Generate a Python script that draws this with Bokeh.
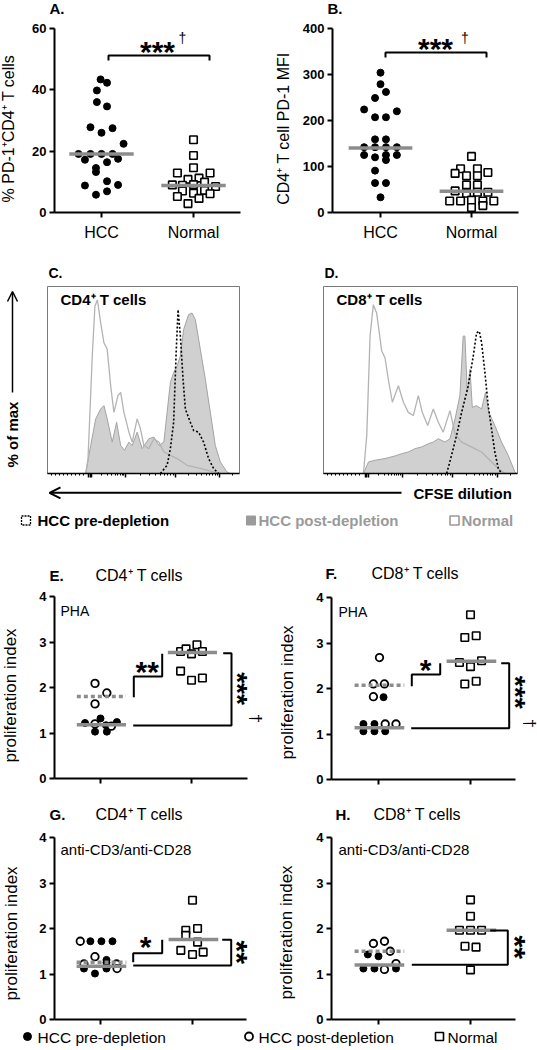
import math
from bokeh.plotting import figure
from bokeh.layouts import column, row
from bokeh.models import Range1d, FixedTicker, Label, Arrow, OpenHead
from bokeh.core.properties import value
from bokeh.embed import file_html
from bokeh.resources import INLINE

FONT = "Liberation Sans"
MED_GRAY = "#8c8c8c"

# ---------------- data: panel A (% PD-1+CD4+ T cells) ----------------
A_HCC_VAL = [43.4, 42.3, 39.8, 36.0, 34.6, 27.8, 27.5, 26.0, 22.4, 19.1, 19.1, 19.1, 19.1,
             17.2, 16.4, 17.5, 14.5, 13.2, 8.8, 10.2, 9.0, 5.8, 6.9]
A_HCC_JIT = [-0.01, 0.06, -0.05, -0.05, 0.06, -0.12, 0.12, 0.0, 0.24, -0.25, -0.12, 0.0, 0.12,
             -0.18, 0.06, 0.18, -0.06, -0.06, -0.18, 0.06, 0.18, -0.06, 0.06]
A_NOR_VAL = [23.7, 18.6, 14.6, 12.9, 12.9, 10.8, 11.2, 9.0, 8.9, 9.1, 9.9, 8.5, 7.0, 6.3, 7.2,
             5.2, 4.6, 6.1, 2.9]
A_NOR_JIT = [0, 0, 0, -0.175, 0.18, -0.06, 0.06, -0.23, -0.12, 0, 0.12, 0.24, -0.12, 0, 0.12,
             -0.175, 0.06, 0.18, -0.06]
A_MED = [19.1, 8.8]

# ---------------- data: panel B (CD4+ T cell PD-1 MFI) ----------------
B_HCC_VAL = [304, 279, 262, 249, 224, 220, 207, 207, 159, 159, 142, 142, 142, 142, 125, 125,
             125, 120, 114, 91, 64, 64, 33]
B_HCC_JIT = [0, 0, 0.06, -0.06, -0.18, 0.18, -0.06, 0.06, -0.06, 0.06, -0.18, -0.06, 0.06, 0.18,
             -0.18, 0.06, 0.18, -0.06, 0.06, -0.06, -0.06, 0.06, 0]
B_NOR_VAL = [122, 95, 95, 85, 87, 80, 80, 60, 60, 47, 42, 44, 44, 25, 25, 27, 25, 25, 11, 15]
B_NOR_JIT = [0, -0.12, 0.065, -0.18, 0.18, -0.055, 0.065, -0.055, 0.065, -0.18, -0.055, 0.065,
             0.18, -0.24, -0.12, 0.0, 0.125, 0.245, 0.0, 0.125]
B_MED = [140, 46]

# ---------------- data: CFSE histograms (% of box width, % of max) ----------------
C_NORM_X = [19.9, 21.1, 23.4, 24.7, 26.0, 27.7, 29.4, 31.1, 32.9, 34.6, 36.7, 38.1, 39.8, 42.4,
            44.1, 46.7, 48.4, 50.2, 52.8, 55.4, 58.0, 60.6, 64.0, 67.5, 72.7, 79.6, 86.5, 90.0]
C_NORM_Y = [0, 8, 64.6, 89.4, 92.9, 80.5, 69.9, 66.4, 46.9, 32.7, 41.6, 43.4, 32.7, 22.1,
            16.8, 29.2, 23.9, 15.0, 13.3, 18.6, 16.8, 11.5, 9.7, 8.0, 4.4, 2.7, 0.9, 0]
C_POST_X = [19.9, 22.5, 25.1, 27.7, 29.4, 31.1, 33.7, 36.0, 38.1, 40.1, 42.4, 44.1, 46.7, 49.3,
            52.8, 55.4, 58.0, 60.6, 62.3, 64.0, 65.7, 67.5, 69.2, 70.9, 73.5, 75.3, 77.0, 79.6,
            82.2, 84.8, 87.4, 90.0, 93.4, 95.2]
C_POST_Y = [0, 15, 29.2, 34.5, 36.3, 29.2, 16.8, 27.4, 15, 12.4, 16.8, 15.0, 22.1, 13.3,
            18.6, 19.5, 15.0, 16.8, 32.7, 48.7, 54.0, 57.5, 62.8, 77.0, 85.0, 85.8, 82.3, 66.4,
            50.4, 32.7, 15.0, 6.2, 0.9, 0]
C_PRE_X = [58.8, 62.3, 64.0, 65.7, 67.0, 68.0, 69.2, 70.6, 71.8, 74.4, 76.1, 78.7, 81.3, 83.9,
           86.5, 89.1]
C_PRE_Y = [0, 4.4, 13.3, 27.4, 64.6, 87.6, 73.5, 50.4, 34.5, 27.4, 23.0, 22.1, 16.8, 8.0, 2.7, 0]

D_NORM_X = [20.6, 22.3, 24.0, 25.7, 27.4, 30.0, 31.7, 33.4, 35.5, 38.6, 41.2, 43.7, 46.3, 48.9,
            50.9, 53.7, 56.6, 59.2, 61.7, 65.2, 67.8, 71.2, 74.6, 78.0, 81.5, 84.9, 90.1, 93.5]
D_NORM_Y = [0, 20.4, 73.5, 90.3, 85.8, 65.5, 61.9, 50.4, 38.1, 46.9, 38.1, 32.7, 31.0, 41.6,
            32.7, 25.7, 34.5, 27.4, 22.1, 33.6, 21.2, 16.8, 15.0, 13.3, 11.5, 8.0, 2.7, 0]
D_POST_X = [20.6, 23.2, 26.6, 31.7, 36.9, 40.3, 43.7, 47.2, 50.6, 54.0, 56.6, 59.2, 62.6, 65.2,
            67.8, 70.3, 72.0, 72.9, 74.1, 75.5, 76.7, 78.9, 81.5, 83.5, 85.2, 88.3, 91.8, 95.2,
            98.6, 99.5]
D_POST_Y = [0, 6.2, 7.1, 8.0, 9.4, 10.6, 11.5, 13.3, 14.2, 15.9, 16.8, 18.6, 16.8, 18.6,
            29.2, 41.6, 73.5, 73.5, 43.4, 55.8, 35.4, 36.3, 34.5, 43.4, 32.7, 25.7, 16.8, 9.7,
            0.9, 0]
D_PRE_X = [63.5, 66.0, 68.6, 71.2, 74.6, 77.2, 78.9, 80.3, 81.5, 83.2, 84.9, 86.6, 88.3, 90.1, 91.8]
D_PRE_Y = [0, 9.7, 20.4, 32.7, 46.9, 62.8, 75.2, 76.1, 69.9, 54.0, 36.3, 23.9, 11.5, 2.7, 0]

# ---------------- data: proliferation index (E-H) ----------------
E_PRE_VAL = [1.32, 1.22, 1.24, 1.17, 1.03, 1.03]
E_PRE_JIT = [0.0, -0.17, 0.18, 0.06, -0.06, 0.07]
E_POST_VAL = [2.09, 1.88, 1.64, 1.20, 1.15]
E_POST_JIT = [-0.06, 0.07, -0.06, -0.06, 0.12]
E_NOR_VAL = [2.79, 2.85, 2.94, 2.79, 2.74, 2.36, 2.16, 2.21]
E_NOR_JIT = [-0.12, -0.06, 0.06, 0.12, 0.0, -0.12, 0.0, 0.12]
E_MED = [1.18, 1.80, 2.77]

F_PRE_VAL = [1.81, 1.22, 1.22, 1.06, 1.06, 1.06]
F_PRE_JIT = [0.055, -0.164, -0.044, -0.164, -0.044, 0.073]
F_POST_VAL = [2.68, 2.10, 2.10, 1.82, 1.22, 1.22]
F_POST_JIT = [0.011, -0.055, 0.065, -0.055, 0.073, 0.19]
F_NOR_VAL = [3.62, 3.12, 3.16, 2.57, 2.48, 2.61, 2.10, 2.16]
F_NOR_JIT = [0.0, -0.062, 0.062, -0.12, 0.0, 0.12, -0.062, 0.062]
F_MED = [1.14, 2.07, 2.60]

G_PRE_VAL = [1.72, 1.72, 1.72, 1.31, 1.12, 1.12, 1.01, 1.25]
G_PRE_JIT = [-0.11, 0.01, 0.13, 0.065, -0.18, 0.065, -0.06, 0.065]
G_POST_VAL = [1.72, 1.38, 1.22, 1.22, 1.12]
G_POST_JIT = [-0.22, -0.06, -0.18, 0.175, 0.18]
G_NOR_VAL = [2.62, 1.96, 2.00, 1.85, 1.70, 1.52, 1.43, 1.48]
G_NOR_JIT = [0.0, -0.073, 0.055, -0.073, 0.055, -0.127, 0.0, 0.116]
G_MED = [1.17, 1.26, 1.76]

H_PRE_VAL = [1.43, 1.39, 1.12, 1.12, 1.12]
H_PRE_JIT = [-0.116, 0.0, -0.164, -0.044, 0.19]
H_POST_VAL = [1.67, 1.72, 1.50, 1.23, 1.10]
H_POST_JIT = [-0.055, 0.065, 0.127, 0.19, 0.065]
H_NOR_VAL = [2.63, 2.27, 1.96, 1.96, 1.96, 1.61, 1.59, 1.09]
H_NOR_JIT = [0.0, 0.0, -0.12, 0.0, 0.12, -0.06, 0.06, 0.0]
H_MED = [1.20, 1.50, 1.96]

GROUPS = ["HCC", "Normal"]
LEGEND_CFSE = ["HCC pre-depletion", "HCC post-depletion", "Normal"]
LEGEND_DOTS = ["HCC pre-depletion", "HCC post-depletion", "Normal"]


# ---------------- helpers ----------------
def full_fig(fx, fy, fw, fh, X, Y, **kw):
    """Figure whose frame fills the whole canvas; X/Y map page pixels to data."""
    p = figure(width=fw, height=fh, x_range=Range1d(X(fx), X(fx + fw)),
               y_range=Range1d(Y(fy + fh), Y(fy)),
               min_border=0, min_border_left=0, min_border_right=0,
               min_border_top=0, min_border_bottom=0,
               toolbar_location=None, output_backend="svg", outline_line_color=None,
               background_fill_color="white", border_fill_color="white", **kw)
    p.grid.visible = False
    return p


def label(p, x, y, text, size, bold=False, color="black", align="left",
          baseline="middle", angle=0.0):
    p.add_layout(Label(x=x, y=y, text=text, text_font=FONT, text_font_size=f"{size}px",
                       text_font_style="bold" if bold else "normal", text_color=color,
                       text_align=align, text_baseline=baseline, angle=angle))


def glyph_text(p, X, Y, cx, cy, text, fs, rise, bold=True, rotated=False):
    # put a text so that its visible glyph centre lands at page pixel (cx, cy)
    if rotated:
        label(p, X(cx - rise * fs), Y(cy), text, fs, bold=bold, align="center",
              baseline="middle", angle=-math.pi / 2)
    else:
        label(p, X(cx), Y(cy + rise * fs), text, fs, bold=bold, align="center",
              baseline="middle")


def dagger(p, X, Y, cx, cy, fs, rotated=False):
    # dagger drawn as a text glyph centred on page pixel (cx, cy)
    p.text(x=[X(cx)], y=[Y(cy)], text=["†"], text_font=value(FONT),
           text_font_size=value(f"{fs}px"), text_align=value("center"),
           text_baseline=value("middle"), text_color="black",
           angle=-math.pi / 2 if rotated else 0.0)


def style_axis(ax):
    ax.axis_line_width = 2
    ax.axis_line_color = "black"
    ax.major_tick_line_width = 2
    ax.major_tick_line_color = "black"
    ax.major_tick_out = 5
    ax.major_tick_in = 0
    ax.minor_tick_line_color = None
    ax.major_label_text_font = FONT
    ax.major_label_text_color = "black"


def dot_panel(g, ymax, yticks, show_names):
    fx, fy, fw, fh = g["fig"]
    u = g["norm"] - g["hcc"]

    def X(px):
        return 1 + (px - g["hcc"]) / u

    def Y(py):
        return (g["bottom"] - py) / (g["bottom"] - g["top"]) * ymax

    p = full_fig(fx, fy, fw, fh, X, Y)
    xa, ya = p.xaxis[0], p.yaxis[0]
    xa.fixed_location = 0
    ya.fixed_location = X(g["axis_l"])
    xa.bounds = (X(g["axis_l"]), X(g["axis_r"]))
    ya.bounds = (0, ymax)
    xa.ticker = FixedTicker(ticks=[1, 2])
    ya.ticker = FixedTicker(ticks=yticks)
    style_axis(xa)
    style_axis(ya)
    ya.major_label_text_font_style = "bold"
    ya.major_label_text_font_size = "13px"
    ya.major_label_standoff = 3
    if show_names:
        xa.major_label_overrides = {1: GROUPS[0], 2: GROUPS[1]}
        xa.major_label_text_font_size = "16px"
        xa.major_label_standoff = 6
    else:
        xa.major_label_overrides = {1: "", 2: ""}
        xa.major_label_text_font_size = "13px"
    return p, X, Y


def filled(p, jit, val, base, size=7):
    p.scatter([base + j for j in jit], val, marker="circle", size=size,
              fill_color="black", line_color="black")


def hollow(p, jit, val, base, size=7.5):
    p.scatter([base + j for j in jit], val, marker="circle", size=size,
              fill_color="white", line_color="black", line_width=1.8)


def squares(p, jit, val, base, size=7.5):
    p.scatter([base + j for j in jit], val, marker="square", size=size,
              fill_color="white", line_color="black", line_width=1.6)


def median(p, base, m, lo, hi, dashed=False):
    p.segment(x0=[base + lo], x1=[base + hi], y0=[m], y1=[m], line_color=MED_GRAY,
              line_width=3.5, line_dash="4 3" if dashed else "solid")


def poly(p, X, Y, pts):
    p.line([X(a) for a, _ in pts], [Y(b) for _, b in pts], line_color="black", line_width=2)


STAR_RISE = 0.2

# ---------------- panel geometry (page pixels) ----------------
GA = dict(fig=(0, 0, 268, 262), axis_l=54, axis_r=240, hcc=101, norm=193, top=28, bottom=212)
GB = dict(fig=(268, 0, 269, 262), axis_l=332, axis_r=518, hcc=380, norm=471, top=28, bottom=212)
GE = dict(fig=(0, 540, 268, 255), axis_l=54, axis_r=247, hcc=100, norm=191, top=596, bottom=778)
GF = dict(fig=(268, 540, 269, 255), axis_l=331, axis_r=515, hcc=378, norm=470, top=597, bottom=779)
GG = dict(fig=(0, 795, 268, 231), axis_l=54, axis_r=246, hcc=100, norm=192, top=837, bottom=1019)
GH = dict(fig=(268, 795, 269, 231), axis_l=331, axis_r=515, hcc=378, norm=470, top=837, bottom=1019)

# ---------------- A ----------------
pA, XA, YA = dot_panel(GA, 60, [0, 20, 40, 60], True)
filled(pA, A_HCC_JIT, A_HCC_VAL, 1)
squares(pA, A_NOR_JIT, A_NOR_VAL, 2)
median(pA, 1, A_MED[0], -0.35, 0.35)
median(pA, 2, A_MED[1], -0.35, 0.35)
poly(pA, XA, YA, [(108, 60), (108, 55), (209, 55), (209, 60)])
glyph_text(pA, XA, YA, 157, 45, "***", 30, STAR_RISE)
dagger(pA, XA, YA, 182, 37, 14)
label(pA, XA(49), YA(8), "A.", 15, bold=True)
label(pA, XA(8), YA(128), "% PD-1⁺CD4⁺ T cells", 16, align="center", angle=math.pi / 2)

# ---------------- B ----------------
pB, XB, YB = dot_panel(GB, 400, [0, 100, 200, 300, 400], True)
filled(pB, B_HCC_JIT, B_HCC_VAL, 1)
squares(pB, B_NOR_JIT, B_NOR_VAL, 2)
median(pB, 1, B_MED[0], -0.35, 0.35)
median(pB, 2, B_MED[1], -0.35, 0.35)
poly(pB, XB, YB, [(385, 57), (385, 52), (486, 52), (486, 57)])
glyph_text(pB, XB, YB, 435, 42, "***", 30, STAR_RISE)
dagger(pB, XB, YB, 464.5, 37, 14)
label(pB, XB(327), YB(8), "B.", 15, bold=True)
label(pB, XB(283), YB(128), "CD4⁺ T cell PD-1 MFI", 16, align="center", angle=math.pi / 2)


# ---------------- C / D histograms ----------------
def hist_panel(fig, box, title, letter, post, norm, pre):
    fx, fy, fw, fh = fig
    l, t, r, b = box

    def X(px):
        return (px - l) / (r - l) * 100

    def Y(py):
        return (b - py) / (b - t) * 100

    p = full_fig(fx, fy, fw, fh, X, Y, y_axis_location=None)
    ax = p.xaxis[0]
    ax.fixed_location = 0
    ax.bounds = (0, 100)
    majors = [21.5, 22.3, 23.1, 40.5, 66.7, 89.5]
    minors = [2.0 + 2.1 * k for k in range(9)]
    for lo, hi in [(23.1, 40.5), (40.5, 66.7), (66.7, 89.5), (89.5, 112.3)]:
        minors += [lo + (hi - lo) * math.log10(k) for k in range(2, 10)]
    minors = [m for m in minors if m < 99.5]
    ax.ticker = FixedTicker(ticks=majors, minor_ticks=minors)
    ax.major_label_overrides = {m: "" for m in majors}
    ax.major_label_text_font_size = "10px"
    ax.axis_line_color = "black"
    ax.axis_line_width = 1.5
    ax.major_tick_out = 4
    ax.major_tick_in = 0
    ax.major_tick_line_width = 1.5
    ax.minor_tick_out = 2
    ax.minor_tick_in = 0
    ax.minor_tick_line_color = "black"
    px_, py_ = post
    p.varea(x=px_, y1=[0] * len(px_), y2=py_, fill_color="#d0d0d0")
    p.line(px_, py_, line_color="#a3a3a3", line_width=1)
    p.line(norm[0], norm[1], line_color="#b3b3b3", line_width=1.3)
    p.line(pre[0], pre[1], line_color="black", line_width=1.6, line_dash="2 2")
    p.quad(left=[0], right=[100], bottom=[0], top=[100], fill_color=None,
           line_color="#7a7a7a", line_width=1)
    label(p, X(l + 13), Y(t + 12.5), title, 15, bold=True)
    label(p, X(l + 1), Y(272), letter, 14, bold=True)
    return p, X, Y


pC, XC, YC = hist_panel((0, 262, 268, 220), (47, 286, 239, 473), "CD4⁺ T cells", "C.",
                        (C_POST_X, C_POST_Y), (C_NORM_X, C_NORM_Y), (C_PRE_X, C_PRE_Y))
pD, XD, YD = hist_panel((268, 262, 269, 220), (323, 286, 517, 473), "CD8⁺ T cells", "D.",
                        (D_POST_X, D_POST_Y), (D_NORM_X, D_NORM_Y), (D_PRE_X, D_PRE_Y))
label(pC, XC(12), YC(434), "% of max", 15, bold=True, align="center", angle=math.pi / 2)
pC.add_layout(Arrow(end=OpenHead(size=10, line_width=1.5), x_start=XC(12), y_start=YC(392),
                    x_end=XC(12), y_end=YC(291), line_width=1.5, line_color="black"))


def strip(fy, h):
    p = full_fig(0, fy, 537, h, lambda px: px, lambda py: py - fy,
                 x_axis_location=None, y_axis_location=None)
    p.y_range = Range1d(h, 0)
    return p


# strip under C/D: CFSE arrow + legend (page pixels, y measured downward)
s1 = strip(482, 58)
s1.add_layout(Arrow(end=OpenHead(size=11, line_width=2), x_start=401, y_start=10.3,
                    x_end=49, y_end=10.3, line_width=2, line_color="black"))
s1.text(x=[413], y=[10.5], text=["CFSE dilution"], text_font=value(FONT),
        text_font_size=value("15px"), text_font_style=value("bold"),
        text_baseline=value("middle"), text_color="black")
s1.scatter([25.5], [38], marker="square", size=9, fill_color="white", line_color="black",
           line_width=1.3, line_dash="2 1")
s1.scatter([250.5], [38], marker="square", size=9, fill_color="#9a9a9a", line_color="#9a9a9a")
s1.scatter([454], [38], marker="square", size=9, fill_color="white", line_color="#9a9a9a",
           line_width=1.6)
s1.text(x=[37, 258, 461], y=[38, 38, 38], text=LEGEND_CFSE, text_font=value(FONT),
        text_font_size=value("15px"), text_font_style=value("bold"),
        text_baseline=value("middle"), text_color=["black", "#9a9a9a", "#9a9a9a"])


# ---------------- E-H ----------------
def prolif(g, pre, post, nor, med, letter, cells, stim, ylab_c):
    p, X, Y = dot_panel(g, 4, [0, 1, 2, 3, 4], False)
    filled(p, pre[0], pre[1], 1)
    hollow(p, post[0], post[1], 1)
    squares(p, nor[0], nor[1], 2)
    median(p, 1, med[0], -0.26, 0.28)
    median(p, 1, med[1], -0.26, 0.28, dashed=True)
    median(p, 2, med[2], -0.26, 0.28)
    label(p, X(letter[1]), Y(letter[2]), letter[0], 15, bold=True)
    label(p, X(cells[1]), Y(letter[2]), cells[0], 16)
    label(p, X(stim[1]), Y(stim[2]), stim[0], stim[3])
    label(p, X(ylab_c[0]), Y(ylab_c[1]), "proliferation index", 17, align="center",
          angle=math.pi / 2)
    return p, X, Y


pE, XE, YE = prolif(GE, (E_PRE_JIT, E_PRE_VAL), (E_POST_JIT, E_POST_VAL), (E_NOR_JIT, E_NOR_VAL),
                    E_MED, ("E.", 49, 575), ("CD4⁺ T cells", 95), ("PHA", 60, 610, 14), (10, 695))
poly(pE, XE, YE, [(133.3, 696.7), (133.3, 676), (161.7, 676), (161.7, 653.3)])
poly(pE, XE, YE, [(222.7, 652.7), (231, 652.7), (231, 725), (132.7, 725)])
glyph_text(pE, XE, YE, 146.7, 665, "**", 30, STAR_RISE)
glyph_text(pE, XE, YE, 243, 688, "***", 28, STAR_RISE, rotated=True)
dagger(pE, XE, YE, 254.5, 718, 17, rotated=True)

pF, XF, YF = prolif(GF, (F_PRE_JIT, F_PRE_VAL), (F_POST_JIT, F_POST_VAL), (F_NOR_JIT, F_NOR_VAL),
                    F_MED, ("F.", 325, 573), ("CD8⁺ T cells", 371), ("PHA", 338, 611, 14),
                    (287, 692))
poly(pF, XF, YF, [(411.3, 685.7), (411.3, 674), (439.7, 674), (439.7, 662.7)])
poly(pF, XF, YF, [(500.7, 662.7), (508.7, 662.7), (508.7, 727.7), (410.7, 727.7)])
glyph_text(pF, XF, YF, 425, 663, "*", 30, STAR_RISE)
glyph_text(pF, XF, YF, 520.7, 691.7, "***", 28, STAR_RISE, rotated=True)
dagger(pF, XF, YF, 529, 723, 16, rotated=True)

pG, XG, YG = prolif(GG, (G_PRE_JIT, G_PRE_VAL), (G_POST_JIT, G_POST_VAL), (G_NOR_JIT, G_NOR_VAL),
                    G_MED, ("G.", 49, 814), ("CD4⁺ T cells", 95),
                    ("anti-CD3/anti-CD28", 60, 849, 15), (11, 933))
poly(pG, XG, YG, [(132.7, 961.7), (132.7, 952.7), (161.7, 952.7), (161.7, 939.3)])
poly(pG, XG, YG, [(221.7, 939.3), (230.7, 939.3), (230.7, 965), (132.7, 965)])
glyph_text(pG, XG, YG, 145, 940, "*", 30, STAR_RISE)
glyph_text(pG, XG, YG, 243.3, 951.7, "**", 30, STAR_RISE, rotated=True)

pH, XH, YH = prolif(GH, (H_PRE_JIT, H_PRE_VAL), (H_POST_JIT, H_POST_VAL), (H_NOR_JIT, H_NOR_VAL),
                    H_MED, ("H.", 335, 814), ("CD8⁺ T cells", 373),
                    ("anti-CD3/anti-CD28", 338, 849, 15), (286, 932))
poly(pH, XH, YH, [(489.7, 930), (507.3, 930), (507.3, 964.3), (411.3, 964.3)])
glyph_text(pH, XH, YH, 521.3, 946.7, "**", 30, STAR_RISE, rotated=True)

# bottom legend strip
s2 = strip(1026, 24)
s2.scatter([27], [10], marker="circle", size=8, fill_color="black", line_color="black")
s2.scatter([248.5], [10], marker="circle", size=8, fill_color="white", line_color="black",
           line_width=1.8)
s2.scatter([439], [10], marker="square", size=8, fill_color="white", line_color="black",
           line_width=1.6)
s2.text(x=[37, 258, 447], y=[10.5, 10.5, 10.5], text=LEGEND_DOTS, text_font=value(FONT),
        text_font_size=value("15.5px"), text_baseline=value("middle"), text_color="black")

layout = column(row(pA, pB), row(pC, pD), s1, row(pE, pF), row(pG, pH), s2)

open("out.html", "w").write(file_html(layout, INLINE))
